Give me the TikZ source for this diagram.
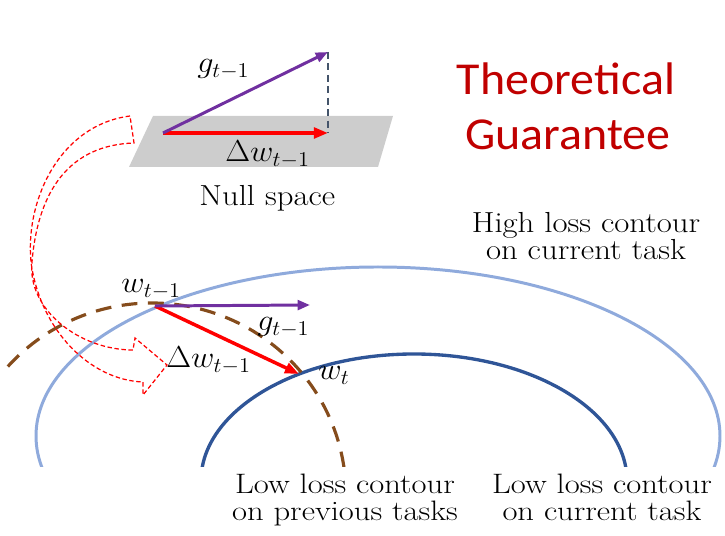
\documentclass[tikz,border=0pt]{standalone}
\usepackage{fontspec}
\newfontfamily\titlefont{Carlito}
\usetikzlibrary{arrows.meta}
\definecolor{lblue}{RGB}{143,170,220}
\definecolor{dblue}{RGB}{47,85,151}
\definecolor{brownc}{RGB}{133,76,28}
\definecolor{purp}{RGB}{112,48,160}
\definecolor{planegray}{RGB}{205,205,205}
\definecolor{titlered}{RGB}{192,0,0}
\definecolor{dashgray}{RGB}{68,84,106}
\newcommand\widetxt[1]{\scalebox{1.13}[1]{#1}}
\newcommand\widebot[1]{\scalebox{1.16}[1]{#1}}
\newcommand\widemath[1]{\scalebox{1.06}[1]{$#1$}}
\newcommand\widettl[1]{\scalebox{1.05}[1]{#1}}
\begin{document}
\begin{tikzpicture}[x=0.02cm,y=-0.02cm,
  lbl/.style={inner sep=0pt, anchor=base west, font=\LARGE},
  txt/.style={inner sep=0pt, anchor=base, font=\fontsize{16.5}{18}\selectfont},
  bot/.style={inner sep=0pt, anchor=base, font=\fontsize{16}{18}\selectfont},
  ttl/.style={inner sep=0pt, anchor=base, text=titlered, font=\titlefont\fontsize{26}{31}\selectfont},
  gvec/.style={purp, line width=1.7pt, -{Triangle[length=7pt,width=5.5pt]}},
  dvec/.style={red, line width=2.2pt, -{Triangle[length=8pt,width=6pt]}},
  proj/.style={dashgray, line width=0.8pt, dash pattern=on 4pt off 2.5pt},
  blockarrow/.style={red, line width=0.7pt, dash pattern=on 2.5pt off 1.5pt, line join=miter},
  hiloss/.style={lblue, line width=1.7pt},
  loloss/.style={dblue, line width=1.9pt},
  prevloss/.style={brownc, line width=1.8pt, dash pattern=on 9pt off 6pt}
]
\useasboundingbox (0,0) rectangle (725,536);

% null space plane
\fill[planegray] (153,116) -- (393,116) -- (378,167) -- (129,167) -- cycle;

% contours
\begin{scope}
\clip (0,0) rectangle (725,467);
\draw[hiloss] (378,436) ellipse [x radius=342, y radius=169];
\draw[loloss] (414,481) ellipse [x radius=213, y radius=127];
\draw[prevloss] (152,495) ++(-138:194 and 192) arc[start angle=-138, end angle=-5, x radius=194, y radius=192];
\end{scope}

% curved block arrow
\draw[blockarrow] (130,116) .. controls (60,125) and (25,200) .. (31,262)
  .. controls (40,330) and (90,380) .. (143,382)
  -- (143,395) -- (167,365) -- (135,338) -- (133,350)
  .. controls (80,350) and (27,310) .. (32,262)
  .. controls (38,190) and (70,145) .. (134,143) -- cycle;

% upper vectors
\coordinate (o1) at (163,133);
\coordinate (g1) at (328,52);
\coordinate (d1) at (328,133);
\draw[proj] (g1) -- (d1);
\draw[dvec] (o1) -- (d1);
\draw[gvec] (o1) -- (g1);

\node[lbl] (gup) at (197,73) {\widemath{g_{t-1}}};
\node[lbl] (dup) at (225,162) {\widemath{\Delta w_{t-1}}};
\node[txt, anchor=base west] (null) at (199,206) {\widetxt{Null space}};

% lower vectors
\coordinate (w0) at (155,306);
\coordinate (g2) at (310,305);
\coordinate (w1) at (299,374);
\draw[dvec, line width=2pt] (w0) -- (w1);
\draw[gvec] (w0) -- (g2);

\node[lbl] (wprev) at (121,293) {\widemath{w_{t-1}}};
\node[lbl] (glow) at (257,331) {\widemath{g_{t-1}}};
\node[lbl] (dlow) at (166,368) {\widemath{\Delta w_{t-1}}};
\node[lbl] (wt) at (318,380) {\widemath{w_t}};

% texts
\node[ttl] (t1) at (566,95) {\widettl{Theoretical}};
\node[ttl] (t2) at (568,150) {\widettl{Guarantee}};
\node[txt] (h1) at (586,233) {\widetxt{High loss contour}};
\node[txt] (h2) at (586,260) {\widetxt{on current task}};
\node[bot] (p1) at (345,494) {\widebot{Low loss contour}};
\node[bot] (p2) at (345,521) {\widebot{on previous tasks}};
\node[bot] (c1) at (602,494) {\widebot{Low loss contour}};
\node[bot] (c2) at (602,521) {\widebot{on current task}};
\end{tikzpicture}
\end{document}
